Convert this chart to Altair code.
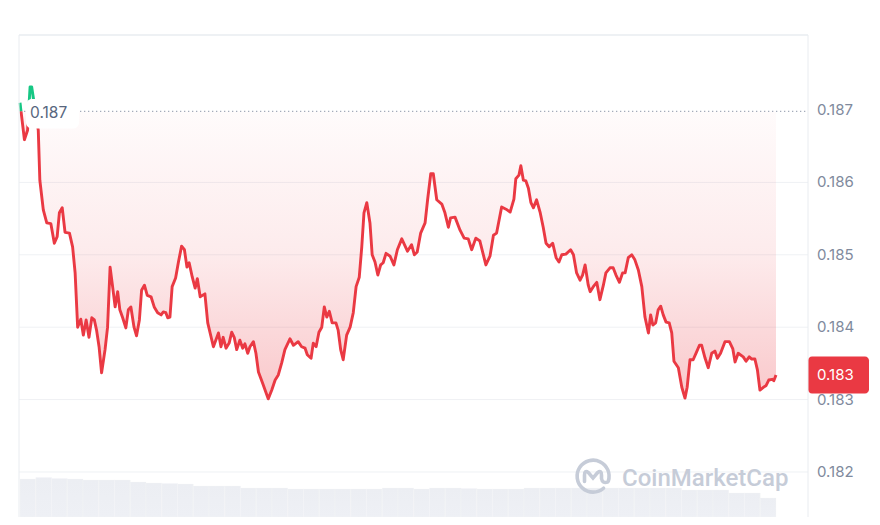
import altair as alt
import pandas as pd

# ---- data (hours since start, price in USD) ----
hours = [0.00, 0.14, 0.24, 0.32, 0.37, 0.58, 0.63, 0.74, 0.85, 0.98,
         1.09, 1.18, 1.25, 1.34, 1.43, 1.57, 1.67, 1.75, 1.83, 1.93,
         2.01, 2.10, 2.19, 2.28, 2.36, 2.43, 2.51, 2.59, 2.70, 2.78,
         2.86, 2.94, 3.02, 3.10, 3.17, 3.26, 3.36, 3.44, 3.52, 3.62,
         3.70, 3.79, 3.86, 3.95, 4.04, 4.16, 4.26, 4.37, 4.48, 4.55,
         4.63, 4.69, 4.76, 4.83, 4.94, 5.03, 5.13, 5.22, 5.30, 5.37,
         5.47, 5.56, 5.63, 5.72, 5.87, 5.96, 6.14, 6.30, 6.38, 6.45,
         6.54, 6.64, 6.72, 6.80, 6.88, 6.98, 7.07, 7.14, 7.23, 7.30,
         7.41, 7.49, 7.57, 7.70, 7.88, 7.99, 8.10, 8.20, 8.31, 8.41,
         8.57, 8.68, 8.83, 8.94, 9.05, 9.12, 9.24, 9.31, 9.40, 9.49,
         9.58, 9.66, 9.74, 9.82, 9.91, 10.03, 10.10, 10.18, 10.26, 10.37,
         10.48, 10.58, 10.67, 10.77, 10.85, 10.92, 11.01, 11.11, 11.18, 11.27,
         11.36, 11.45, 11.53, 11.62, 11.75, 11.87, 11.98, 12.12, 12.30, 12.43,
         12.52, 12.61, 12.72, 12.86, 12.94, 13.04, 13.12, 13.23, 13.39, 13.49,
         13.60, 13.67, 13.81, 13.97, 14.10, 14.23, 14.34, 14.47, 14.60, 14.79,
         14.92, 15.03, 15.13, 15.29, 15.43, 15.56, 15.68, 15.74, 15.84, 15.90,
         15.98, 16.06, 16.14, 16.22, 16.30, 16.40, 16.51, 16.61, 16.70, 16.80,
         16.91, 17.02, 17.11, 17.20, 17.33, 17.48, 17.57, 17.67, 17.78, 17.86,
         17.94, 18.04, 18.10, 18.20, 18.31, 18.41, 18.52, 18.60, 18.73, 18.83,
         18.92, 19.03, 19.13, 19.21, 19.31, 19.42, 19.52, 19.63, 19.74, 19.84,
         19.95, 20.02, 20.09, 20.18, 20.26, 20.34, 20.42, 20.51, 20.61, 20.69,
         20.76, 20.90, 21.01, 21.11, 21.18, 21.27, 21.37, 21.48, 21.57, 21.64,
         21.75, 21.85, 21.96, 22.06, 22.14, 22.24, 22.38, 22.52, 22.63, 22.70,
         22.80, 22.96, 23.05, 23.15, 23.23, 23.33, 23.41, 23.49, 23.60, 23.68,
         23.77, 23.88, 23.93, 24.00]

prices = [0.18710, 0.18659, 0.18672, 0.18732, 0.18732, 0.18672, 0.18603, 0.18562, 0.18544, 0.18543,
          0.18516, 0.18525, 0.18558, 0.18565, 0.18531, 0.18530, 0.18511, 0.18475, 0.18400, 0.18411,
          0.18389, 0.18410, 0.18386, 0.18413, 0.18410, 0.18396, 0.18373, 0.18337, 0.18369, 0.18400,
          0.18483, 0.18456, 0.18428, 0.18449, 0.18424, 0.18413, 0.18399, 0.18424, 0.18428, 0.18400,
          0.18388, 0.18410, 0.18451, 0.18458, 0.18444, 0.18442, 0.18428, 0.18420, 0.18417, 0.18421,
          0.18420, 0.18413, 0.18414, 0.18456, 0.18468, 0.18490, 0.18512, 0.18507, 0.18483, 0.18489,
          0.18469, 0.18454, 0.18467, 0.18442, 0.18446, 0.18406, 0.18373, 0.18392, 0.18373, 0.18386,
          0.18371, 0.18378, 0.18393, 0.18386, 0.18369, 0.18382, 0.18371, 0.18377, 0.18364, 0.18373,
          0.18380, 0.18364, 0.18338, 0.18323, 0.18301, 0.18313, 0.18327, 0.18334, 0.18351, 0.18369,
          0.18384, 0.18375, 0.18380, 0.18373, 0.18371, 0.18362, 0.18357, 0.18378, 0.18373, 0.18393,
          0.18400, 0.18428, 0.18414, 0.18422, 0.18406, 0.18406, 0.18396, 0.18369, 0.18355, 0.18389,
          0.18400, 0.18420, 0.18456, 0.18469, 0.18511, 0.18558, 0.18572, 0.18544, 0.18500, 0.18490,
          0.18472, 0.18486, 0.18489, 0.18502, 0.18498, 0.18486, 0.18507, 0.18522, 0.18505, 0.18514,
          0.18500, 0.18504, 0.18530, 0.18544, 0.18576, 0.18612, 0.18612, 0.18576, 0.18570, 0.18558,
          0.18538, 0.18551, 0.18552, 0.18534, 0.18523, 0.18522, 0.18507, 0.18523, 0.18519, 0.18486,
          0.18498, 0.18527, 0.18530, 0.18566, 0.18563, 0.18559, 0.18577, 0.18605, 0.18610, 0.18623,
          0.18603, 0.18602, 0.18592, 0.18572, 0.18565, 0.18576, 0.18559, 0.18538, 0.18516, 0.18511,
          0.18516, 0.18496, 0.18490, 0.18500, 0.18501, 0.18507, 0.18500, 0.18475, 0.18465, 0.18472,
          0.18486, 0.18458, 0.18449, 0.18456, 0.18462, 0.18438, 0.18458, 0.18475, 0.18482, 0.18482,
          0.18472, 0.18462, 0.18475, 0.18475, 0.18496, 0.18500, 0.18493, 0.18479, 0.18456, 0.18414,
          0.18392, 0.18417, 0.18403, 0.18406, 0.18424, 0.18429, 0.18417, 0.18407, 0.18406, 0.18392,
          0.18353, 0.18344, 0.18317, 0.18302, 0.18317, 0.18355, 0.18355, 0.18366, 0.18375, 0.18375,
          0.18357, 0.18344, 0.18364, 0.18367, 0.18357, 0.18364, 0.18380, 0.18380, 0.18370, 0.18352,
          0.18364, 0.18359, 0.18353, 0.18359, 0.18356, 0.18356, 0.18341, 0.18313, 0.18317, 0.18319,
          0.18327, 0.18328, 0.18326, 0.18334]

# volume (arbitrary units, per half hour)
vol_start = [0.0, 0.5, 1.0, 1.5, 2.0, 2.5, 3.0, 3.5, 4.0, 4.5, 5.0, 5.5,
             6.0, 6.5, 7.0, 7.5, 8.0, 8.5, 9.0, 9.5, 10.0, 10.5, 11.0, 11.5,
             12.0, 12.5, 13.0, 13.5, 14.0, 14.5, 15.0, 15.5, 16.0, 16.5, 17.0, 17.5,
             18.0, 18.5, 19.0, 19.5, 20.0, 20.5, 21.0, 21.5, 22.0, 22.5, 23.0, 23.5]
volumes = [3.8, 3.95, 3.85, 3.8, 3.7, 3.7, 3.7, 3.5, 3.4, 3.35, 3.3, 3.1,
           3.1, 3.1, 2.9, 2.9, 2.9, 2.8, 2.8, 2.8, 2.8, 2.8, 2.8, 2.9,
           2.9, 2.8, 2.9, 2.9, 2.85, 2.8, 2.8, 2.8, 2.9, 2.9, 2.9, 2.9,
           2.9, 2.9, 2.9, 2.9, 2.9, 2.9, 2.7, 2.7, 2.7, 2.4, 2.4, 1.9]

OPEN = 0.18698
tick_values = [0.182, 0.183, 0.184, 0.185, 0.186, 0.187]
grid_values = [0.182, 0.183, 0.184, 0.185, 0.186]

RED = "#ea3943"
GREEN = "#16c784"
W, H = 788, 482

# split series into above/below-open segments (for colouring)
rows = []
seg = 0
prev = None
for t, p in zip(hours, prices):
    side = "up" if p > OPEN else "down"
    if prev is not None and side != prev[2]:
        t0, p0, s0 = prev
        f = (OPEN - p0) / (p - p0)
        tc = t0 + f * (t - t0)
        rows.append({"t": tc, "p": OPEN, "seg": seg, "side": s0, "open": OPEN})
        seg += 1
        rows.append({"t": tc, "p": OPEN, "seg": seg, "side": side, "open": OPEN})
    rows.append({"t": t, "p": p, "seg": seg, "side": side, "open": OPEN})
    prev = (t, p, side)
seg_df = pd.DataFrame(rows)

vol_df = pd.DataFrame({"start": vol_start, "vol": volumes})
vol_df["end"] = vol_df["start"] + 0.5

open_df = pd.DataFrame({"open": [OPEN]})
last_df = pd.DataFrame({"last": [prices[-1]]})
grid_df = pd.DataFrame({"v": grid_values})
tick_df = pd.DataFrame({"v": tick_values})

xscale = alt.Scale(domain=[0, 25.016], nice=False, zero=False)
yscale = alt.Scale(domain=[0.181378, 0.188036], nice=False, zero=False)
X = alt.X("t:Q", scale=xscale, axis=None)

vol = alt.Chart(vol_df).mark_rect(
    color=alt.Gradient(gradient="linear",
                       stops=[alt.GradientStop(color="#eceef3", offset=0),
                              alt.GradientStop(color="#eef0f5", offset=1)],
                       x1=1, x2=1, y1=0, y2=1),
    stroke="#f5f6f9", strokeWidth=0.3
).encode(
    x=alt.X("start:Q", scale=xscale, axis=None),
    x2="end:Q",
    y=alt.Y("vol:Q", scale=alt.Scale(domain=[0, 48.2], nice=False), axis=None),
    y2=alt.datum(0),
)

grid = alt.Chart(grid_df).mark_rule(color="#eff1f4", strokeWidth=1).encode(
    y=alt.Y("v:Q", scale=yscale, axis=None),
    x=alt.value(-1), x2=alt.value(W),
)

tick_labels = alt.Chart(tick_df).mark_text(
    align="left", baseline="middle", fontSize=15, font="Inter", color="#808a9d").encode(
    y=alt.Y("v:Q", scale=yscale, axis=None), x=alt.value(W + 9),
    text=alt.Text("v:Q", format=".3f"))

red_fill = alt.Gradient(
    gradient="linear",
    stops=[alt.GradientStop(color="rgba(234,57,67,0.02)", offset=0),
           alt.GradientStop(color="rgba(234,57,67,0.10)", offset=0.5),
           alt.GradientStop(color="rgba(234,57,67,0.28)", offset=1)],
    x1=1, x2=1, y1=0, y2=1)

red_area = alt.Chart(seg_df).transform_filter(alt.datum.side == "down").mark_area(
    color=red_fill).encode(
    x=X, y=alt.Y("p:Q", scale=yscale, axis=None), y2="open:Q", detail="seg:N")

green_area = alt.Chart(seg_df).transform_filter(alt.datum.side == "up").mark_area(
    color="rgba(22,199,132,0.13)").encode(
    x=X, y=alt.Y("p:Q", scale=yscale, axis=None), y2="open:Q", detail="seg:N")

open_rule = alt.Chart(open_df).mark_rule(
    color="#a3abba", strokeWidth=1.3, strokeDash=[1.3, 2.7]).encode(
    y=alt.Y("open:Q", scale=yscale, axis=None), x=alt.value(0), x2=alt.value(W))

line = alt.Chart(seg_df).mark_line(strokeWidth=2.9, strokeJoin="round").encode(
    x=X, y=alt.Y("p:Q", scale=yscale, axis=None),
    color=alt.Color("side:N", scale=alt.Scale(domain=["up", "down"], range=[GREEN, RED]),
                    legend=None),
    detail="seg:N")

label_box = alt.Chart(open_df).mark_rect(
    color="white", cornerRadius=6, yOffset=-12.5, y2Offset=17).encode(
    y=alt.Y("open:Q", scale=yscale, axis=None), y2="open:Q",
    x=alt.value(6), x2=alt.value(59))

label_text = alt.Chart(open_df).mark_text(
    align="left", baseline="middle", dy=2, fontSize=15.5, font="Inter",
    color="#58667e").encode(
    y=alt.Y("open:Q", scale=yscale, axis=None), x=alt.value(10),
    text=alt.Text("open:Q", format=".3f"))

logo_path = ("M 0.62 0.72 A 0.94 0.94 0 1 1 0.9 0.3 "
             "M -0.5 0.32 L -0.5 -0.05 Q -0.5 -0.38 -0.27 -0.2 L 0 0.12 "
             "L 0.27 -0.2 Q 0.5 -0.38 0.5 -0.05 L 0.5 0.15 Q 0.55 0.45 0.86 0.36")
wm_df = pd.DataFrame({"name": ["CoinMarketCap"]})
logo = alt.Chart(wm_df).mark_point(
    shape=logo_path, size=1156, filled=False, stroke="#c6ccd8", strokeWidth=3.6,
    strokeCap="round", opacity=1).encode(x=alt.value(573), y=alt.value(441))
wm_text = alt.Chart(wm_df).mark_text(
    align="left", baseline="alphabetic", fontSize=24, font="Roboto", fontWeight=500,
    color="#c6ccd8").encode(x=alt.value(602), y=alt.value(451), text="name:N")

price_box = alt.Chart(last_df).mark_rect(
    color=RED, cornerRadius=4, yOffset=-18.5, y2Offset=18.5).encode(
    y=alt.Y("last:Q", scale=yscale, axis=None), y2="last:Q",
    x=alt.value(W), x2=alt.value(849))

price_text = alt.Chart(last_df).mark_text(
    align="left", baseline="middle", fontSize=15, font="Inter", color="white").encode(
    y=alt.Y("last:Q", scale=yscale, axis=None), x=alt.value(797),
    text=alt.Text("last:Q", format=".3f"))

frame_col = "#e9ecf0"
frame_top = alt.Chart(open_df).mark_rule(color=frame_col, strokeWidth=1.5).encode(
    y=alt.value(0), x=alt.value(-1), x2=alt.value(W))
frame_left = alt.Chart(open_df).mark_rule(color=frame_col, strokeWidth=1).encode(
    x=alt.value(-1), y=alt.value(0), y2=alt.value(H))
frame_right = alt.Chart(open_df).mark_rule(color=frame_col, strokeWidth=1).encode(
    x=alt.value(W), y=alt.value(0), y2=alt.value(H))

main = alt.layer(grid, tick_labels, red_area, green_area, open_rule, line, label_box,
                 label_text, logo, wm_text, price_box, price_text,
                 frame_top, frame_left, frame_right)

chart = alt.layer(vol, main).resolve_scale(y="independent").properties(
    width=W, height=H,
    padding={"left": 12, "top": 27, "right": 64, "bottom": 0},
    autosize=alt.AutoSizeParams(type="none"),
    background="white",
).configure_view(stroke=None)

chart.save("out.html", embed_options={"renderer": "svg", "actions": False})
